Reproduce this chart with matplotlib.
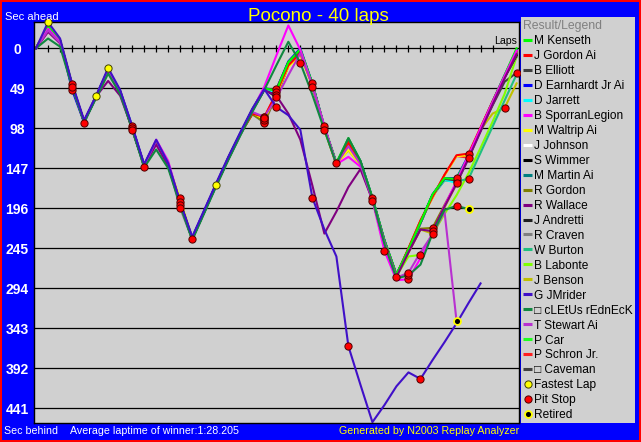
import numpy as np
import matplotlib
matplotlib.use("Agg")
import matplotlib.pyplot as plt
from matplotlib.patches import Rectangle
from matplotlib import transforms

plt.rcParams['font.family'] = ['Liberation Sans', 'DejaVu Sans']

W, H = 641, 442

title = "Pocono - 40 laps"
laps = list(range(41))
y_ticks = [0, 49, 98, 147, 196, 245, 294, 343, 392, 441]
lap_ticks = list(range(1, 39))

drivers = ["M Kenseth", "J Gordon Ai", "B Elliott", "D Earnhardt Jr Ai", "D Jarrett",
           "B SporranLegion", "M Waltrip Ai", "J Johnson", "S Wimmer", "M Martin Ai",
           "R Gordon", "R Wallace", "J Andretti", "R Craven", "W Burton", "B Labonte",
           "J Benson", "G JMrider", "\u25a1 cLEtUs rEdnEcK", "T Stewart Ai", "P Car",
           "P Schron Jr.", "\u25a1 Caveman"]
colors = ["#00FF00", "#FF0000", "#404040", "#0000FF", "#00FFFF", "#FF00FF", "#FFFF00",
          "#FFFFFF", "#000000", "#008080", "#808000", "#800080", "#202020", "#808080",
          "#20C080", "#80FF00", "#C0C000", "#4010C8", "#108840", "#B830D0", "#20FF20",
          "#FF2020", "#404040"]

m_kenseth = [0, -27, -10, 44, 90, 59, 26, 53, 97, 144, 113, 142, 189, 233, 200, 167, 134, 104, 75,
             49, 52, 17, 1, 43, 96, 140, 110, 138, 183, 235,
             277, 246, 213, 179, 159, 160, 132, 99, 66, 33, 0]
j_gordon = [0, -26, -9, 45, 90, 59, 27, 53, 97, 144, 114, 143, 190, 233, 200, 167, 135, 105, 80,
            84, 55, 21, 6, 45, 98, 142, 115, 140, 185, 237,
            278, 245, 211, 182, 155, 131, 129, 97, 65, 34, 4]
b_elliott = [0, -25, -9, 45, 90, 59, 28, 54, 97, 144, 114, 143, 190, 233, 200, 167, 135, 105, 76,
             50, 50, 17, 3, 44, 97, 141, 113, 139, 184, 236,
             278, 247, 214, 180, 160, 162, 133, 100, 67, 35, 6]
d_earnhardt = [0, -27, -10, 51, 91, 59, 26, 52, 96, 143, 113, 142, 189, 232, 199, 166, 134, 104, 75,
               49, 51, 16, 0, 43, 96, 141, 111, 138, 183, 235,
               277, 246, 213, 179, 159, 159, 131, 98, 65, 33, 2]
d_jarrett = [0, -26, -9, 45, 90, 59, 27, 53, 95, 144, 114, 143, 190, 233, 200, 167, 135, 105, 76,
             50, 54, 19, 4, 44, 97, 141, 113, 139, 184, 236,
             278, 247, 214, 180, 161, 165, 134, 101, 67, 35, 4]
b_sporran = [0, -24, -8, 46, 90, 59, 28, 54, 97, 144, 112, 138, 190, 233, 200, 167, 135, 106, 76,
             47, 9, -28, 2, 46, 95, 142, 133, 145, 186, 248,
             284, 283, 257, 226, 193, 163, 131, 98, 66, 34, 3]
m_waltrip = [0, -26, -9, 45, 90, 59, 27, 53, 97, 144, 114, 143, 184, 233, 200, 167, 135, 105, 79,
             87, 57, 23, 8, 46, 99, 143, 124, 143, 186, 238,
             279, 246, 212, 183, 156, 132, 131, 98, 66, 35, 6]
j_johnson = [0, -26, -9, 44, 90, 59, 27, 53, 97, 144, 114, 143, 188, 233, 200, 167, 135, 105, 76,
             50, 52, 18, 3, 44, 97, 141, 113, 139, 184, 236,
             278, 247, 214, 180, 160, 162, 133, 100, 67, 35, 6]
s_wimmer = [0, -26, -9, 45, 90, 59, 27, 53, 98, 144, 114, 143, 190, 233, 200, 167, 135, 105, 76,
            50, 57, 20, 4, 44, 97, 141, 113, 139, 184, 236,
            278, 247, 214, 180, 160, 161, 133, 100, 67, 35, 8]
m_martin = [0, -26, -9, 45, 90, 59, 27, 53, 97, 144, 114, 143, 192, 234, 201, 168, 136, 106, 77,
            51, 53, 18, 3, 44, 97, 141, 113, 139, 184, 236,
            278, 247, 214, 180, 160, 162, 133, 100, 67, 35, 7]
r_gordon = [0, -26, -9, 48, 90, 59, 27, 53, 97, 144, 114, 143, 190, 233, 200, 167, 135, 105, 81,
            90, 58, 22, 6, 45, 98, 142, 116, 141, 185, 238,
            279, 250, 221, 220, 192, 165, 134, 101, 68, 36, 8]
r_wallace = [0, -20, -6, 45, 90, 59, 40, 58, 98, 144, 118, 144, 190, 233, 200, 167, 135, 105, 76,
             51, 58, 80, 112, 168, 227, 200, 170, 148, 186, 238,
             280, 250, 222, 224, 194, 166, 135, 102, 69, 37, 7]
j_andretti = [0, -26, -9, 45, 90, 59, 27, 53, 100, 144, 114, 143, 190, 233, 200, 167, 135, 105, 76,
              50, 60, 21, 4, 44, 97, 141, 113, 139, 187, 236,
              278, 247, 214, 180, 160, 162, 133, 100, 67, 35, 9]
r_craven = [0, -26, -9, 45, 90, 59, 27, 53, 97, 144, 114, 143, 196, 234, 201, 168, 136, 106, 80,
            92, 58, 22, 7, 45, 98, 142, 116, 141, 185, 238,
            280, 247, 214, 180, 160, 162, 133, 100, 67, 35, 10]
w_burton = [0, -26, -9, 45, 90, 59, 27, 53, 97, 146, 114, 143, 190, 233, 200, 167, 135, 105, 76,
            50, 52, 18, 3, 43, 97, 141, 113, 139, 184, 236,
            278, 247, 214, 181, 162, 163, 160, 128, 96, 64, 32]
b_labonte = [0, -26, -9, 45, 91, 59, 27, 53, 97, 144, 114, 143, 190, 233, 200, 167, 135, 105, 76,
             50, 52, 18, 3, 47, 98, 142, 118, 141, 185, 237,
             279, 255, 253, 228, 203, 180, 153, 122, 90, 56, 10]
j_benson = [0, -26, -9, 45, 90, 59, 27, 53, 97, 144, 114, 143, 190, 233, 200, 167, 135, 105, 80,
            88, 57, 22, 7, 45, 98, 142, 125, 143, 186, 238,
            280, 250, 222, 227, 195, 166, 134, 100, 80, 73, 43]
g_jmrider = [0, -32, -12, 43, 88, 58, 24, 51, 95, 142, 112, 141, 188, 231, 198, 165, 133, 103, 74,
             50, 72, 82, 100, 183, 222, 255, 365, 412, 458, 437,
             414, 397, 405, 382, 360, 337, 312, 288, None, None, None]
cletus = [0, -12, -2, 47, 91, 61, 31, 56, 99, 146, 124, 147, 192, 235, 202, 169, 137, 107, 78,
          51, 21, -8, 18, 57, 100, 142, 110, 138, 184, 240,
          282, 278, 265, 227, 198, 193, 197, None, None, None, None]
t_stewart = [0, -22, -7, 46, 90, 59, 29, 54, 97, 144, 113, 140, 191, 233, 200, 167, 135, 105, 78,
             84, 61, 33, 6, 45, 98, 142, 120, 142, 186, 238,
             281, 275, 250, 228, 200, 334, None, None, None, None, None]
p_car = [0, -26, -9, 45, 90, 59, 27, 53, 97, 144, 114, 143, 190, 234, 200, 167, 135, 105, 76,
         50, 52, 17, 2, 44, 100, 141, 112, 139, 184, 236,
         278, 247, 214, 180, 160, 161, 133, 100, 67, 35, 11]
p_schron = [0, -26, -9, 45, 90, 59, 27, 53, 97, 144, 114, 143, 190, 233, 200, 167, 135, 105, 80,
            85, 56, 22, 7, 45, 98, 142, 116, 141, 185, 237,
            278, 245, 211, 183, 155, 132, 134, 99, 66, 35, 9]
caveman = [0, -26, -9, 45, 90, 59, 27, 53, 97, 144, 114, 143, 190, 233, 200, 167, 135, 105, 76,
           50, 52, 18, 3, 44, 97, 141, 113, 139, 184, 236,
           278, 247, 214, 180, 160, 162, 133, 100, 70, 41, 30]

series = [m_kenseth, j_gordon, b_elliott, d_earnhardt, d_jarrett, b_sporran, m_waltrip,
          j_johnson, s_wimmer, m_martin, r_gordon, r_wallace, j_andretti, r_craven, w_burton,
          b_labonte, j_benson, g_jmrider, cletus, t_stewart, p_car, p_schron, caveman]

pit_laps = [[], [19, 36], [20, 35], [3, 25, 35], [8, 20, 35], [24, 29, 31], [12, 19],
            [3, 12], [8, 20, 28], [12], [3, 19, 33], [33], [8, 20, 28], [12, 19, 30],
            [9, 23, 36], [4, 23, 32], [19, 33, 39], [20, 23, 26, 32], [22, 31, 35], [19, 31],
            [13, 24], [19, 36], [40]]
fastest_laps = [(17, 1), (0, 5), (17, 6), (0, 15)]   # (driver index, lap)
retired = [(19, 35), (18, 36)]                        # (driver index, lap)

fig = plt.figure(figsize=(W / 100, H / 100), dpi=100)
fig.patch.set_facecolor('#0000FF')


def fx(px):
    return px / W


def fy(py):
    return 1 - py / H


ax = fig.add_axes([fx(34), fy(423), (519 - 34) / W, (423 - 22) / H])
ax.set_facecolor('#D0D0D0')
ax.set_xlim(-0.17, 40.2)
ax.set_ylim(459, -32.2)
ax.set_xticks([])
ax.set_yticks([])
for s in ax.spines.values():
    s.set_color('black')
    s.set_linewidth(1.0)

for v in y_ticks:
    ax.axhline(v, color='black', lw=0.9, zorder=1)
ax.vlines(lap_ticks, -4.3, 4.3, color='black', lw=0.9, zorder=1)
ax.text(40.0, -5.0, 'Laps', ha='right', va='baseline', fontsize=7.6, color='black', zorder=1)

arrs = [np.array([np.nan if v is None else v for v in vals], dtype=float) for vals in series]
n = len(series)
special = [5, 11, 19, 18, 17]
draw_order = [k for k in range(n - 1, -1, -1) if k not in special] + special
for z, k in enumerate(draw_order):
    ax.plot(laps, arrs[k], color=colors[k], lw=1.5, zorder=2 + z * 0.01)

for i, pl in enumerate(pit_laps):
    for lp in pl:
        ax.plot(lp, arrs[i][lp], 'o', ms=5.2, mfc='#FF0000', mec='#500000', mew=0.7,
                zorder=4, clip_on=False)
for i, lp in fastest_laps:
    ax.plot(lp, arrs[i][lp], 'o', ms=5.2, mfc='#FFFF00', mec='#404000', mew=0.7,
            zorder=4, clip_on=False)
for i, lp in retired:
    ax.plot(lp, arrs[i][lp], 'o', ms=5.0, mfc='#000000', mec='#FFFF00', mew=1.3,
            zorder=4, clip_on=False)

trans = transforms.blended_transform_factory(fig.transFigure, ax.transData)
for v in y_ticks:
    ax.text(fx(17), v, str(v), transform=trans, ha='center', va='center_baseline',
            color='white', fontweight='bold', fontsize=10, clip_on=False)

# legend panel
lax = fig.add_axes([fx(521), fy(423.3), (635 - 521) / W, (423.3 - 16.7) / H])
lax.set_facecolor('#D0D0D0')
lax.set_xlim(521, 635)
lax.set_ylim(423.3, 16.7)
lax.set_xticks([])
lax.set_yticks([])
for s in lax.spines.values():
    s.set_visible(False)
lax.text(523, 28.5, 'Result/Legend', color='#808080', fontsize=8.8, va='baseline')
for i, (name, col) in enumerate(zip(drivers, colors)):
    yy = 40 + 14.96 * i
    lax.plot([523, 532], [yy, yy], color=col, lw=2.2, solid_capstyle='butt')
    lax.text(534, yy + 4.3, name, fontsize=8.6, va='baseline', color='black', clip_on=False)
extra = [("Fastest Lap", dict(mfc='#FFFF00', mec='#404000', mew=0.7, ms=5.2)),
         ("Pit Stop", dict(mfc='#FF0000', mec='#500000', mew=0.7, ms=5.2)),
         ("Retired", dict(mfc='#000000', mec='#FFFF00', mew=1.3, ms=5.0))]
for k, (name, st) in enumerate(extra):
    yy = 40 + 14.96 * (len(drivers) + k)
    lax.plot([527.5], [yy], 'o', **st)
    lax.text(534, yy + 4.3, name, fontsize=8.6, va='baseline', color='black')

# texts on frame
fig.text(fx(318.5), fy(20.7), title, ha='center', va='baseline', color='#FFFF00', fontsize=13.5)
fig.text(fx(5), fy(19.5), 'Sec ahead', ha='left', va='baseline', color='white', fontsize=8)
fig.text(fx(4.5), fy(434.5), 'Sec behind', ha='left', va='baseline', color='white', fontsize=7.7)
fig.text(fx(70.3), fy(434.5), 'Average laptime of winner:1:28.205', ha='left', va='baseline',
         color='white', fontsize=7.7)
fig.text(fx(519), fy(434.5), 'Generated by N2003 Replay Analyzer', ha='right', va='baseline',
         color='#FFFF00', fontsize=7.7)

fig.add_artist(Rectangle((0, 0), 1, 1, transform=fig.transFigure, fill=False,
                         edgecolor='#FF0000', lw=2.9, zorder=10))

fig.savefig('out.png', dpi=100, facecolor=fig.get_facecolor())
